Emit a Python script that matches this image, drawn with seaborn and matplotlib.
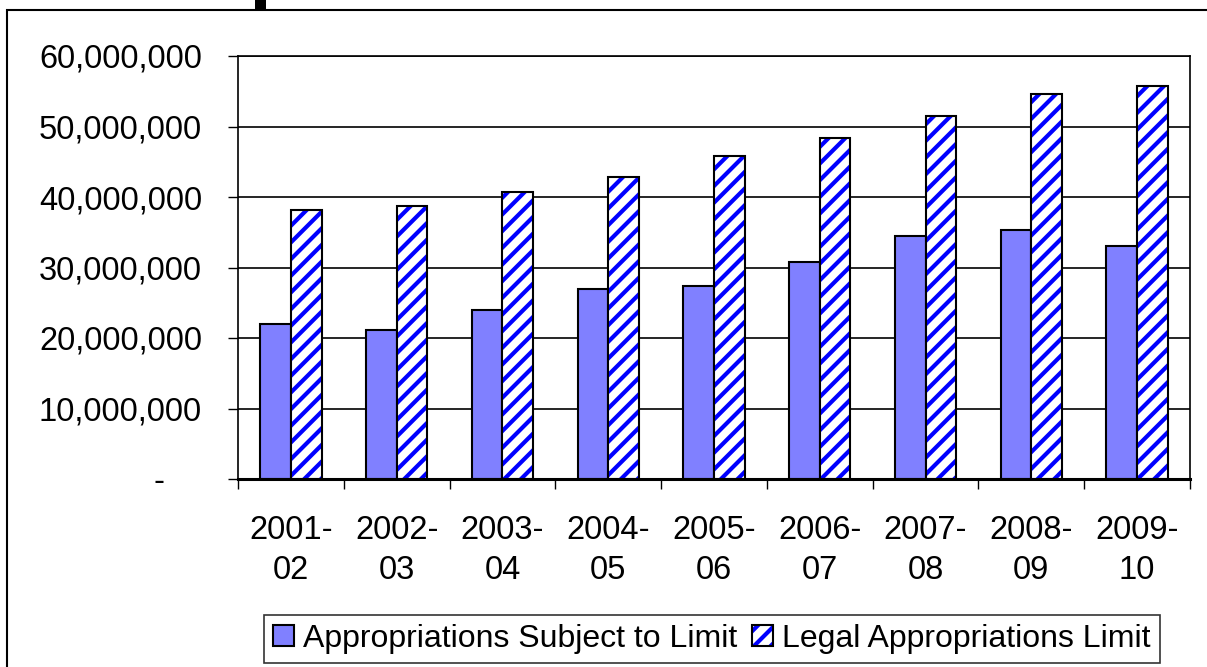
import pandas as pd
import seaborn as sns
import matplotlib.pyplot as plt
from matplotlib.patches import Rectangle
from matplotlib.ticker import FuncFormatter

# -------------------- Data --------------------
years = ["2001-\n02", "2002-\n03", "2003-\n04", "2004-\n05", "2005-\n06",
         "2006-\n07", "2007-\n08", "2008-\n09", "2009-\n10"]
subject_to_limit = [22.0e6, 21.2e6, 24.0e6, 27.0e6, 27.4e6, 30.8e6, 34.4e6, 35.3e6, 33.0e6]
legal_limit = [38.1e6, 38.7e6, 40.7e6, 42.9e6, 45.8e6, 48.3e6, 51.5e6, 54.6e6, 55.7e6]
series = ["Appropriations Subject to Limit", "Legal Appropriations Limit"]

df = pd.DataFrame({
    "year": years * 2,
    "value": subject_to_limit + legal_limit,
    "series": [series[0]] * len(years) + [series[1]] * len(years),
})

# -------------------- Style --------------------
sns.set_style("white")
plt.rcParams["font.family"] = ["Liberation Sans", "DejaVu Sans"]
plt.rcParams["text.color"] = "black"
plt.rcParams["xtick.color"] = "black"
plt.rcParams["ytick.color"] = "black"
plt.rcParams["hatch.linewidth"] = 3.0

fig = plt.figure(figsize=(12.07, 6.67), dpi=100)
ax = fig.add_axes([238 / 1207, 1 - 479 / 667, (1190 - 238) / 1207, (479 - 56) / 667])

sns.barplot(data=df, x="year", y="value", hue="series",
            palette=["#8080FF", "white"], saturation=1, width=0.58, gap=0,
            edgecolor="black", linewidth=1.5, ax=ax, legend=True)

# hatched second series: blue stripes, then a black outline on top
n = len(years)
for p in ax.patches[n:2 * n]:
    p.set_hatch("//")
    p.set_edgecolor("#0000FF")
    p.set_linewidth(0)
    ax.add_patch(Rectangle(p.get_xy(), p.get_width(), p.get_height(),
                           fill=False, edgecolor="black", linewidth=1.5, zorder=p.get_zorder() + 0.1))

ax.set_ylim(0, 60e6)
ax.set_xlim(-0.5, n - 0.5)
ax.set_yticks(range(0, 60000001, 10000000))
ax.yaxis.set_major_formatter(FuncFormatter(lambda v, _: "-    " if v == 0 else f"{int(v):,}"))
ax.grid(axis="y", color="black", linewidth=1.2)
ax.set_axisbelow(True)
ax.set_xlabel("")
ax.set_ylabel("")

for s in ax.spines.values():
    s.set_color("black")
    s.set_linewidth(1.2)
ax.spines["bottom"].set_linewidth(2.2)

ax.tick_params(axis="y", which="major", length=7, width=1, color="black",
               direction="out", left=True, labelsize=23.5, pad=19)
ax.tick_params(axis="x", which="major", length=0, labelsize=23.5, pad=26)
ax.set_xticks([i - 0.5 for i in range(n + 1)], minor=True)
ax.tick_params(axis="x", which="minor", length=7, width=1, color="black",
               direction="out", bottom=True)
for lbl in ax.get_xticklabels():
    lbl.set_linespacing(1.35)

# -------------------- Legend --------------------
handles, labels = ax.get_legend_handles_labels()
ax.get_legend().remove()
hatch_box = Rectangle((0, 0), 1, 1, facecolor="white", edgecolor="#0000FF", hatch="//", linewidth=0)
outline_box = Rectangle((0, 0), 1, 1, fill=False, edgecolor="black", linewidth=1.5)
leg = fig.legend([handles[0], (hatch_box, outline_box)], labels, loc="center",
                 bbox_to_anchor=(712 / 1207, 1 - 639 / 667),
                 ncol=2, frameon=True, fancybox=False, fontsize=23,
                 handlelength=0.65, handleheight=0.65, handletextpad=0.3,
                 columnspacing=0.45, borderpad=0.28, borderaxespad=0)
leg.get_frame().set_edgecolor("black")
leg.get_frame().set_linewidth(1.2)

# outer chart border (left and top only visible) and the small mark on top
fig.add_artist(Rectangle((7 / 1207, -0.1), 1.2, 1 - 10 / 667 + 0.1, transform=fig.transFigure,
                         fill=False, edgecolor="black", linewidth=1.5))
fig.add_artist(Rectangle((255 / 1207, 1 - 10 / 667), 11 / 1207, 10 / 667,
                         transform=fig.transFigure, facecolor="black", edgecolor="none"))

fig.savefig("out.png", dpi=100)
